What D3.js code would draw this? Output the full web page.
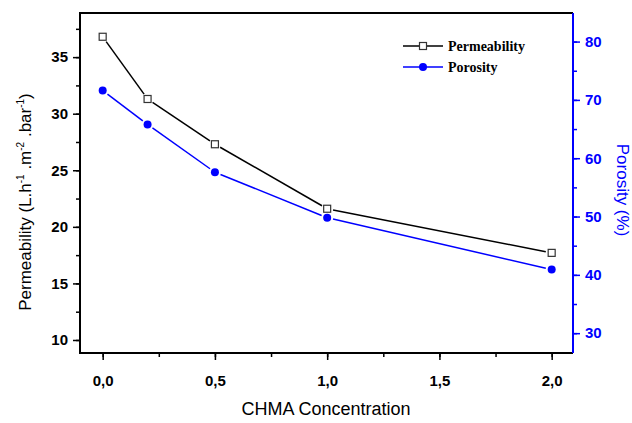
<!DOCTYPE html>
<html>
<head>
<meta charset="utf-8">
<script src="https://cdn.jsdelivr.net/npm/d3@7"></script>
<style>
  body { margin: 0; background: #fff; }
</style>
</head>
<body>
<div id="chart"></div>
<script>
// data
const concentration = [0.0, 0.2, 0.5, 1.0, 2.0];
const permeability = [36.8, 31.3, 27.3, 21.6, 17.7];
const porosity = [71.6, 65.8, 57.6, 49.8, 40.9];

const xTicks = [0, 0.5, 1, 1.5, 2];
const leftTicks = [10, 15, 20, 25, 30, 35];
const rightTicks = [30, 40, 50, 60, 70, 80];

const width = 632, height = 423;
const plot = { left: 80, right: 573, top: 13, bottom: 353 };
const blue = "#0000ff";
const sans = "'Liberation Sans', Arial, sans-serif";
const serif = "'Liberation Serif', 'Times New Roman', serif";

let svg = d3.select("#chart").append("svg")
  .attr("width", width)
  .attr("height", height)
  .style("font-family", sans);

let xScale = d3.scaleLinear().domain([-0.101, 2.095]).range([plot.left, plot.right]);
let yLeft = d3.scaleLinear().domain([8.85, 38.9]).range([plot.bottom, plot.top]);
let yRight = d3.scaleLinear().domain([26.6, 84.9]).range([plot.bottom, plot.top]);

const fmt = d => d3.format(".1f")(d).replace(".", ",");

// minor ticks
function minors(g, scale, step, orient) {
  const [a, b] = scale.domain();
  const vals = d3.range(Math.ceil(a / step) * step, b, step);
  g.call(orient(scale).tickValues(vals).tickSize(4).tickFormat(""));
}

// x axis
let gx = svg.append("g").attr("transform", `translate(0,${plot.bottom})`);
minors(gx, xScale, 0.25, d3.axisBottom);
svg.append("g").attr("transform", `translate(0,${plot.bottom})`)
  .call(d3.axisBottom(xScale).tickValues(xTicks).tickSize(7).tickPadding(15).tickFormat(fmt));

// left axis
let gl = svg.append("g").attr("transform", `translate(${plot.left},0)`);
minors(gl, yLeft, 2.5, d3.axisLeft);
svg.append("g").attr("transform", `translate(${plot.left},0)`)
  .call(d3.axisLeft(yLeft).tickValues(leftTicks).tickSize(7).tickPadding(5).tickFormat(d3.format("d")));

// right axis
let gr = svg.append("g").attr("class", "right").attr("transform", `translate(${plot.right},0)`);
minors(gr, yRight, 5, d3.axisRight);
svg.append("g").attr("class", "right").attr("transform", `translate(${plot.right},0)`)
  .call(d3.axisRight(yRight).tickValues(rightTicks).tickSize(7).tickPadding(5).tickFormat(d3.format("d")));

svg.selectAll(".domain").remove();
svg.selectAll(".tick line").attr("stroke", "#000").attr("stroke-width", 1.5);
svg.selectAll(".tick text")
  .style("font-family", sans).style("font-size", "15px").style("font-weight", "bold")
  .attr("fill", "#000");
svg.selectAll(".right .tick line").attr("stroke", blue);
svg.selectAll(".right .tick text").attr("fill", blue);

// frame
svg.append("path")
  .attr("d", `M${plot.right},${plot.top}H${plot.left}V${plot.bottom}H${plot.right}`)
  .attr("fill", "none").attr("stroke", "#000").attr("stroke-width", 2);
svg.append("line")
  .attr("x1", plot.right).attr("x2", plot.right)
  .attr("y1", plot.top).attr("y2", plot.bottom)
  .attr("stroke", blue).attr("stroke-width", 2);

// series with small gaps at the markers
function drawSeries(values, scale, color, gap) {
  const pts = concentration.map((c, i) => [xScale(c), scale(values[i])]);
  const segs = d3.pairs(pts).map(([a, b]) => {
    const dx = b[0] - a[0], dy = b[1] - a[1], len = Math.hypot(dx, dy);
    const ux = dx / len, uy = dy / len;
    return [[a[0] + ux * gap, a[1] + uy * gap], [b[0] - ux * gap, b[1] - uy * gap]];
  });
  svg.append("g").selectAll("line").data(segs).join("line")
    .attr("x1", d => d[0][0]).attr("y1", d => d[0][1])
    .attr("x2", d => d[1][0]).attr("y2", d => d[1][1])
    .attr("stroke", color).attr("stroke-width", 1.5);
  return pts;
}

let pPts = drawSeries(permeability, yLeft, "#000", 6);
svg.append("g").selectAll("rect").data(pPts).join("rect")
  .attr("x", d => d[0] - 3.5).attr("y", d => d[1] - 3.5)
  .attr("width", 7).attr("height", 7)
  .attr("fill", "#fff").attr("stroke", "#333").attr("stroke-width", 1.2);

let oPts = drawSeries(porosity, yRight, blue, 6);
svg.append("g").selectAll("circle").data(oPts).join("circle")
  .attr("cx", d => d[0]).attr("cy", d => d[1]).attr("r", 4)
  .attr("fill", blue);

// axis titles
svg.append("text")
  .attr("x", 326).attr("y", 415)
  .attr("text-anchor", "middle").style("font-size", "18px")
  .text("CHMA Concentration");

let lt = svg.append("text")
  .attr("transform", "translate(31,202) rotate(-90)")
  .attr("text-anchor", "middle").style("font-size", "17px");
lt.append("tspan").text("Permeability (L.h");
lt.append("tspan").style("font-size", "10px").attr("dy", -7).text("-1");
lt.append("tspan").attr("dy", 7).text(" .m");
lt.append("tspan").style("font-size", "10px").attr("dy", -7).text("-2");
lt.append("tspan").attr("dy", 7).text(" .bar");
lt.append("tspan").style("font-size", "10px").attr("dy", -7).text("-1");
lt.append("tspan").attr("dy", 7).text(")");

svg.append("text")
  .attr("transform", "translate(617,190) rotate(90)")
  .attr("text-anchor", "middle").style("font-size", "17px").attr("fill", blue)
  .text("Porosity (%)");

// legend
const legendItems = [
  { name: "Permeability", color: "#000", marker: "square" },
  { name: "Porosity", color: blue, marker: "circle" }
];
let lg = svg.append("g").attr("transform", "translate(403,46)");
legendItems.forEach((d, i) => {
  let row = lg.append("g").attr("transform", `translate(0,${i * 21})`);
  row.append("line").attr("x1", 0).attr("x2", 40).attr("y1", 0).attr("y2", 0)
    .attr("stroke", d.color).attr("stroke-width", 1.5);
  if (d.marker === "square") {
    row.append("rect").attr("x", 16.5).attr("y", -3.5).attr("width", 7).attr("height", 7)
      .attr("fill", "#fff").attr("stroke", "#333").attr("stroke-width", 1.2);
  } else {
    row.append("circle").attr("cx", 20).attr("cy", 0).attr("r", 4).attr("fill", d.color);
  }
  row.append("text").attr("x", 45).attr("y", 5)
    .style("font-family", serif)
    .style("font-size", "14px").style("font-weight", "bold")
    .text(d.name);
});
</script>
</body>
</html>
